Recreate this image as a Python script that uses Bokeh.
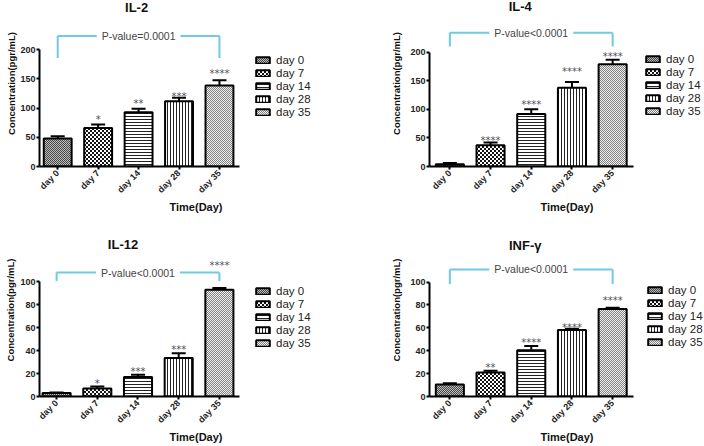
import base64
import math
import struct
import zlib

from bokeh.core.properties import value
from bokeh.embed import file_html
from bokeh.layouts import gridplot
from bokeh.models import (ColumnDataSource, FixedTicker, ImageURLTexture, Legend, LegendItem,
                          Range1d, TeeHead, Whisker)
from bokeh.plotting import figure
from bokeh.resources import INLINE

# Data
days = ["day 0", "day 7", "day 14", "day 28", "day 35"]

il2_mean = [48, 66, 93, 112, 139]
il2_err = [4, 6, 6, 6, 9]
il2_stars = ["", "*", "**", "***", "****"]
il2_star_y = [0, 87, 115, 126, 166]

il4_mean = [4, 37, 92, 138, 179]
il4_err = [2, 5, 8, 10, 8]
il4_stars = ["", "****", "****", "****", "****"]
il4_star_y = [0, 52, 115, 174, 199]

il12_mean = [3, 7, 17, 33.5, 93]
il12_err = [0.5, 1.8, 2, 4.3, 1.6]
il12_stars = ["", "*", "***", "***", "****"]
il12_star_y = [0, 14.8, 25.6, 44.6, 118]

ifn_mean = [10.5, 21, 40.5, 58, 76.5]
ifn_err = [1, 1.5, 3.7, 1.3, 1]
ifn_stars = ["", "**", "****", "****", "****"]
ifn_star_y = [0, 29, 50.4, 63.8, 87]

ticks_200 = [0, 50, 100, 150, 200]
ticks_100 = [0, 20, 40, 60, 80, 100]


def png_url(rows):
    # tiny RGB png as a data url, used as a repeating bar texture
    h, w = len(rows), len(rows[0])
    raw = b"".join(b"\x00" + bytes(c for px in row for c in px) for row in rows)

    def chunk(tag, data):
        return (struct.pack(">I", len(data)) + tag + data
                + struct.pack(">I", zlib.crc32(tag + data) & 0xFFFFFFFF))

    png = (b"\x89PNG\r\n\x1a\n"
           + chunk(b"IHDR", struct.pack(">IIBBBBB", w, h, 8, 2, 0, 0, 0))
           + chunk(b"IDAT", zlib.compress(raw)) + chunk(b"IEND", b""))
    return "data:image/png;base64," + base64.b64encode(png).decode()


def checker_rows(a, b, cell, size):
    return [[a if (x // cell + y // cell) % 2 == 0 else b for x in range(size)] for y in range(size)]


textures = {
    "gray_check": ImageURLTexture(url=png_url(checker_rows((70, 70, 70), (190, 190, 190), 1, 2))),
    "checker": ImageURLTexture(url=png_url(checker_rows((20, 20, 20), (255, 255, 255), 2, 4))),
    "fine_check": ImageURLTexture(url=png_url(checker_rows((130, 130, 130), (240, 240, 240), 1, 2))),
}

# bar fill styles (Prism-like patterns)
fills = ["#d4d4d4", "white", "white", "white", "#eeeeee"]
hatches = ["gray_check", "checker", "horizontal_line", "vertical_line", "fine_check"]
hatch_colors = ["#3a3a3a", "black", "#222222", "#222222", "#666666"]
hatch_scales = [4, 4, 3, 3, 3]

W, H = 352, 223
PITCH = 40.7
FONT = "Liberation Sans"
BRACKET = "#72c9e3"


def panel(title, mean, err, stars, star_y, p_text, br_y, br_leg, ticks,
          left, bottom, px_unit, legend_xy, title_dx, title_y, ylab_standoff, x0):
    fh = H - bottom
    n = len(days)
    xs = list(range(n))
    p = figure(width=W, height=H,
               x_range=Range1d(x0, x0 + (W - left) / PITCH),
               y_range=Range1d(0, fh / px_unit),
               min_border_left=left, min_border_bottom=bottom,
               min_border_top=0, min_border_right=0,
               output_backend="svg", toolbar_location=None)
    p.outline_line_color = None
    p.grid.visible = False

    src = ColumnDataSource(data=dict(
        x=xs, top=mean, upper=[m + e for m, e in zip(mean, err)],
        fill=fills, pattern=hatches, hcolor=hatch_colors, hscale=hatch_scales))
    bars = p.vbar(x="x", top="top", width=0.69, source=src,
                  fill_color="fill", line_color="black", line_width=2,
                  hatch_pattern="pattern", hatch_color="hcolor", hatch_scale="hscale",
                  hatch_weight=1, hatch_extra=textures)

    whisk = Whisker(source=src, base="x", upper="upper", lower="top", dimension="height",
                    line_width=2, line_color="black",
                    upper_head=TeeHead(size=14, line_width=2, line_color="black"),
                    lower_head=None)
    p.add_layout(whisk)

    # significance stars
    sx = [i for i, s in enumerate(stars) if s]
    p.text(x=sx, y=[star_y[i] for i in sx], text=[stars[i] for i in sx],
           text_font=value("DejaVu Sans"), text_font_size="10px", text_color="#50505c",
           text_align="center", text_baseline="alphabetic", y_offset=4)

    # bracket from first to last day
    p.segment(x0=[xs[0], xs[0], xs[-1]], y0=[br_y, br_y, br_y],
              x1=[xs[-1], xs[0], xs[-1]], y1=[br_y, br_leg, br_leg],
              line_color=BRACKET, line_width=2)
    p.text(x=[xs[2]], y=[br_y], text=[p_text], text_font=value(FONT), text_font_size="10.5px",
           text_color="#444444", text_align="center", text_baseline="middle",
           background_fill_color="white", padding=5)

    # panel title
    p.text(x=[xs[2]], y=[(fh - title_y) / px_unit], text=[title], text_font=value(FONT),
           text_font_size="13px", text_font_style="bold", text_color="#111111",
           text_align="center", text_baseline="middle", x_offset=title_dx)

    xa, ya = p.xaxis[0], p.yaxis[0]
    for ax in (xa, ya):
        ax.axis_line_width = 2
        ax.axis_line_color = "black"
        ax.major_tick_line_width = 2
        ax.major_tick_in = 0
        ax.minor_tick_out = 0
        ax.minor_tick_in = 0
        ax.major_label_text_font = FONT
        ax.major_label_text_font_size = "9px"
        ax.major_label_text_font_style = "bold"
        ax.major_label_text_color = "#222222"
    xa.ticker = FixedTicker(ticks=xs)
    xa.major_label_overrides = {i: d for i, d in enumerate(days)}
    xa.major_label_orientation = math.pi / 4
    xa.major_tick_out = 3
    xa.major_label_standoff = 2
    xa.bounds = (x0, n - 0.5)
    xa.axis_label = "Time(Day)"
    xa.axis_label_text_font = FONT
    xa.axis_label_text_font_size = "11px"
    xa.axis_label_text_font_style = "bold"
    xa.axis_label_text_color = "#111111"
    xa.axis_label_standoff = 0

    ya.ticker = FixedTicker(ticks=ticks)
    ya.bounds = (ticks[0], ticks[-1])
    ya.major_tick_out = 3
    ya.major_label_standoff = 1
    ya.axis_label = "Concentration(pgr/mL)"
    ya.axis_label_text_font = FONT
    ya.axis_label_text_font_size = "9.5px"
    ya.axis_label_text_font_style = "bold"
    ya.axis_label_text_color = "#111111"
    ya.axis_label_standoff = ylab_standoff

    legend = Legend(items=[LegendItem(label=d, renderers=[bars], index=i) for i, d in enumerate(days)],
                    location=legend_xy, glyph_width=17, glyph_height=8, label_height=13,
                    label_standoff=5, spacing=0, padding=0, margin=0,
                    label_text_font=FONT, label_text_font_size="11.5px", label_text_color="#222222",
                    border_line_color=None, background_fill_alpha=0)
    p.add_layout(legend)
    return p


p1 = panel("IL-2", il2_mean, il2_err, il2_stars, il2_star_y, "P-value=0.0001", 223.5, 186,
           ticks_200, 37, 57, 0.5835, (215, 48), -2, 6.5, 0, -0.45)
p2 = panel("IL-4", il4_mean, il4_err, il4_stars, il4_star_y, "P-value<0.0001", 234, 210,
           ticks_200, 77, 52, 0.5885, (215, 49), -11, 6.5, 5, -0.5)
p3 = panel("IL-12", il12_mean, il12_err, il12_stars, il12_star_y, "P-value<0.0001", 108, 100.6,
           ticks_100, 39, 46, 1.174, (215, 47), -15, 21, 1, -0.42)
p4 = panel("INF-γ", ifn_mean, ifn_err, ifn_stars, ifn_star_y, "P-value<0.0001", 111, 98.3,
           ticks_100, 77, 46, 1.171, (217, 48), -6, 23, 5, -0.5)

grid = gridplot([[p1, p2], [p3, p4]], toolbar_location=None)

open("out.html", "w").write(file_html(grid, INLINE))
